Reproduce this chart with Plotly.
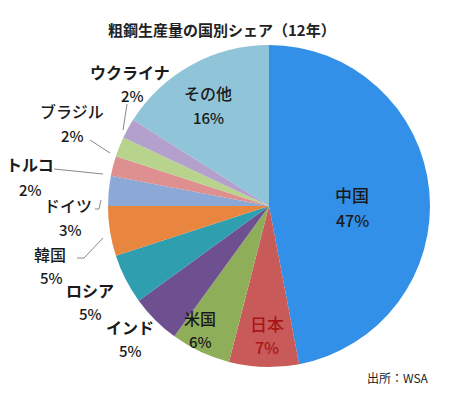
import plotly.graph_objects as go

countries = ["中国", "日本", "米国", "インド", "ロシア", "韓国", "ドイツ", "トルコ", "ブラジル", "ウクライナ", "その他"]
shares = [47, 7, 6, 5, 5, 5, 3, 2, 2, 2, 16]
colors = ["#3390e8", "#c85a5a", "#8fae5a", "#6e5091", "#2f9fb0", "#e8853e",
          "#8ba8d6", "#de9090", "#b8d48c", "#b4a0cc", "#90c4d8"]

W, H = 450, 398
cx, cy, r = 269, 206, 161

fig = go.Figure(go.Pie(
    labels=countries, values=shares, sort=False, direction="clockwise", rotation=0,
    marker=dict(colors=colors, line=dict(width=0)),
    textinfo="none", hoverinfo="label+percent", showlegend=False,
    domain=dict(x=[(cx - r) / W, (cx + r) / W], y=[(H - cy - r) / H, (H - cy + r) / H]),
))

FONT = "Noto Sans CJK JP"
# label positions (pixels from top-left) for name and percent
pos = {
    "中国": ((352, 194), (352, 220), "#1a1a1a", 500, 17),
    "日本": ((267, 323), (267, 347), "#aa1515", 500, 17),
    "米国": ((200, 318), (200, 341), "#1a1a1a", 500, 16),
    "インド": ((130, 327), (130, 350), "#1a1a1a", 700, 16),
    "ロシア": ((90, 290), (90, 313), "#1a1a1a", 700, 16),
    "韓国": ((50, 254), (51, 277), "#1a1a1a", 500, 16),
    "ドイツ": ((68, 205), (70, 229), "#1a1a1a", 500, 16),
    "トルコ": ((30, 164), (30, 189), "#1a1a1a", 700, 16),
    "ブラジル": ((72, 111), (72, 136), "#1a1a1a", 500, 16),
    "ウクライナ": ((130, 72), (132, 96), "#1a1a1a", 700, 16),
    "その他": ((208, 93), (208, 117), "#1a1a1a", 500, 16),
}
ann = []
for name, val in zip(countries, shares):
    (nx, ny), (px, py), col, wt, fs = pos[name]
    ann.append(dict(x=nx / W, y=1 - ny / H, xref="paper", yref="paper", text=name, showarrow=False,
                    font=dict(family=FONT, size=fs, color=col, weight=wt), xanchor="center", yanchor="middle"))
    ann.append(dict(x=px / W, y=1 - py / H, xref="paper", yref="paper", text=f"{val}%", showarrow=False,
                    font=dict(family=FONT, size=fs - 1, color=col, weight=500), xanchor="center", yanchor="middle"))

ann.append(dict(x=222 / W, y=1 - 30 / H, xref="paper", yref="paper", text="粗鋼生産量の国別シェア（12年）",
                showarrow=False, font=dict(family=FONT, size=15, color="#222", weight=700),
                xanchor="center", yanchor="middle"))
ann.append(dict(x=398 / W, y=1 - 377 / H, xref="paper", yref="paper", text="出所：WSA",
                showarrow=False, font=dict(family=FONT, size=12, color="#222"), xanchor="center", yanchor="middle"))

leaders = [
    [(127, 104), (123, 130)],
    [(90, 140), (110, 153)],
    [(54, 169), (103, 174)],
    [(95, 209), (99, 209), (101, 200)],
    [(77, 258), (84, 258), (103, 238)],
]
shapes = []
for pts in leaders:
    path = "M " + " L ".join(f"{x / W},{1 - y / H}" for x, y in pts)
    shapes.append(dict(type="path", xref="paper", yref="paper", path=path,
                       line=dict(color="#888", width=1)))

fig.update_layout(width=W, height=H, margin=dict(l=0, r=0, t=0, b=0),
                  paper_bgcolor="white", plot_bgcolor="white",
                  annotations=ann, shapes=shapes)
fig.write_html("out.html", config={"displayModeBar": False},
               post_script="document.body.style.margin='0px';document.body.style.padding='0px';")
